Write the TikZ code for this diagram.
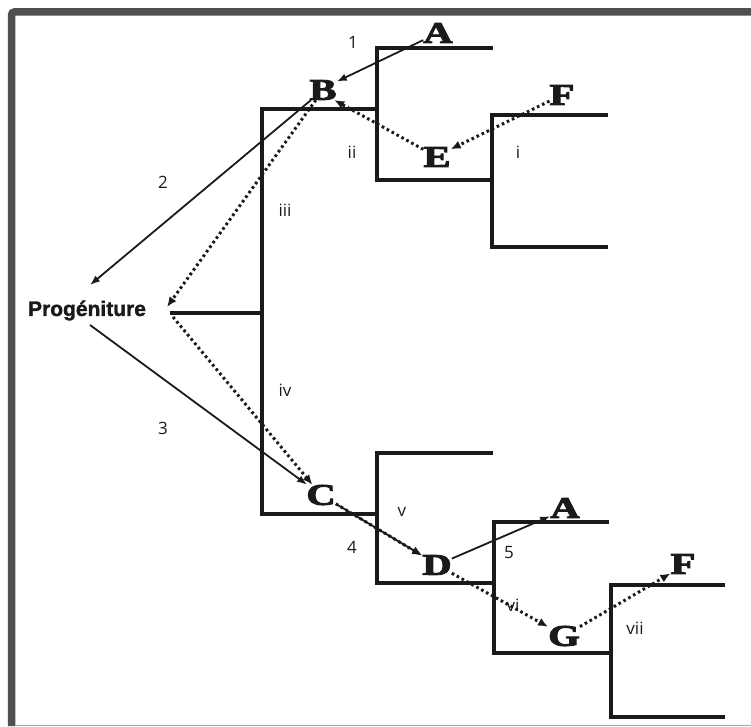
\documentclass[tikz,border=0pt]{standalone}
\usepackage{fontspec}
\usepackage{graphicx}
\setmainfont{Liberation Serif}
\newfontfamily\letterfont[FakeBold=3]{Liberation Serif Bold}
\newfontfamily\labelfont{Open Sans}
\newfontfamily\progfont[FakeBold=1.5]{Liberation Sans Bold}
\usetikzlibrary{arrows.meta}

\definecolor{framegray}{HTML}{505050}
\definecolor{ink}{HTML}{1A1A1A}

\newcommand{\wide}[1]{\scalebox{1.35}[1]{#1}}

\begin{document}
\begin{tikzpicture}[x=1pt, y=1pt,
        letter/.style={inner sep=0pt, text=ink,
            font=\letterfont\fontsize{30}{30}\selectfont},
        steplbl/.style={inner sep=0pt, text=ink,
            font=\labelfont\fontsize{17}{17}\selectfont},
        tree/.style={ink, line width=3.2pt},
        arr/.style={ink, line width=1.8pt, -{Latex[length=10pt, width=7.5pt]}},
        dotarr/.style={ink, line width=3pt, dash pattern=on 2.6pt off 3pt,
            -{Latex[length=10pt, width=8.5pt]}}]
    \useasboundingbox (0, 0) rectangle (751, 726);

    % frame
    \draw[framegray, line width=7.5pt, rounded corners=3pt] (11.5, 0)--(11.5, 714)--(751, 714);
    \draw[gray!70, line width=1pt] (15, 0.5)--(751, 0.5);

    % tree
    \draw[tree] (377, 617) -| (262, 212) -- (377, 212);
    \draw[tree] (170, 413)--(262, 413);
    \draw[tree] (493, 678) -| (377, 546) -- (492, 546);
    \draw[tree] (608, 611) -| (492, 479) -- (608, 479);
    \draw[tree] (493, 273) -| (377, 143) -- (494, 143);
    \draw[tree] (609, 204) -| (494, 73) -- (611, 73);
    \draw[tree] (725, 141) -| (611, 9) -- (725, 9);

    % letters
    \node[letter] (A1) at (438, 693) {\wide{A}};
    \node[letter] (B) at (323, 636) {\wide{B}};
    \node[letter] (F1) at (562, 631) {\wide{F}};
    \node[letter] (E) at (437, 569) {\wide{E}};
    \node[letter] (C) at (321, 231) {\wide{C}};
    \node[letter] (D) at (437, 161) {\wide{D}};
    \node[letter] (A2) at (565, 218) {\wide{A}};
    \node[letter] (F2) at (683, 162) {\wide{F}};
    \node[letter] (G) at (564, 90) {\wide{G}};
    \node[inner sep=0pt, anchor=base, text=ink,
        font=\progfont\fontsize{21}{21}\selectfont] (Prog) at (87, 410) {Progéniture};

    % solid arrows
    \draw[arr] ([shift={(-30, -5)}]A1)--([shift={(16, -8)}]B);
    \draw[arr] ([shift={(-30, -8)}]B)--([shift={(3, 31)}]Prog.base);
    \draw[arr] ([shift={(3, -9)}]Prog.base)--([shift={(-28, -5)}]C);
    \draw[arr] ([shift={(19, -8)}]C)--([shift={(-29, -5)}]D);
    \draw[arr] ([shift={(16, -5)}]D)--([shift={(-33, -4)}]A2);

    % dotted arrows
    \draw[dotarr] ([shift={(-30, -8)}]F1)--([shift={(16, -8)}]E);
    \draw[dotarr] ([shift={(-30, -8)}]E)--([shift={(19, -12)}]B);
    \draw[dotarr] ([shift={(-8, -37)}]B)--([shift={(80, 9)}]Prog.base);
    \draw[dotarr] ([shift={(86, -1)}]Prog.base)--([shift={(-6, 23)}]C);
    \draw[dotarr] ([shift={(17, -7)}]C)--([shift={(5, 22)}]D);
    \draw[dotarr] ([shift={(18, -8)}]D)--([shift={(-32, -4)}]G);
    \draw[dotarr] ([shift={(18, -4)}]G)--([shift={(-25, -11)}]F2);

    % step labels
    \node[steplbl] (n1) at (353, 684) {1};
    \node[steplbl] (n2) at (163, 544) {2};
    \node[steplbl] (n3) at (163, 298) {3};
    \node[steplbl] (n4) at (352, 179) {4};
    \node[steplbl] (n5) at (509, 173) {5};
    \node[steplbl] (ri) at (518, 574) {i};
    \node[steplbl] (rii) at (352, 574) {ii};
    \node[steplbl] (riii) at (285, 516) {iii};
    \node[steplbl] (riv) at (285, 336) {iv};
    \node[steplbl] (rv) at (402, 214) {v};
    \node[steplbl] (rvi) at (513, 121) {vi};
    \node[steplbl] (rvii) at (635, 98) {vii};
\end{tikzpicture}
\end{document}
